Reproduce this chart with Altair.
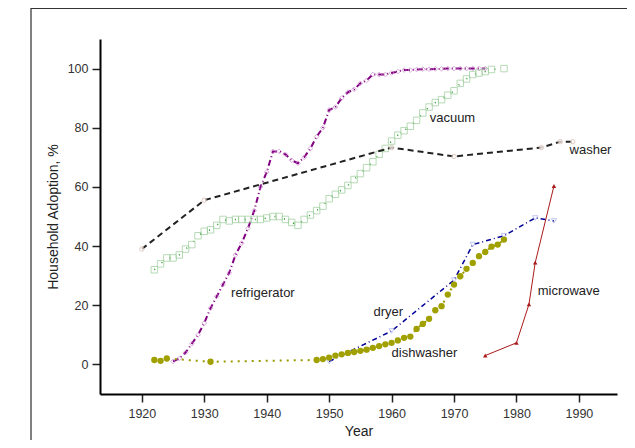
import altair as alt
import pandas as pd

FONT = "Liberation Sans"

# ---------------- data ----------------
washer_years = [1920, 1930, 1960, 1970, 1984, 1987, 1989]
washer_vals = [39, 55.5, 73.3, 70.3, 73.3, 75.3, 75.3]

fridge_years = list(range(1925, 1976))
fridge_vals = [1, 2, 4, 7, 10, 14, 19, 23, 27, 31,
               37, 41, 46, 52, 60, 65, 72, 72, 71, 69,
               68, 70, 73, 77, 80, 86, 87, 90, 92, 93,
               95, 96, 98, 98, 98, 98.5, 99, 99.5, 99.5, 99.7,
               99.8, 99.8, 99.9, 99.9, 100, 100, 100, 100, 100, 100,
               100]

vacuum_years = list(range(1922, 1977)) + [1978]
vacuum_vals = [32, 34, 36, 36, 37, 39, 40.5, 43.5, 45, 45.5,
               47, 49, 48.5, 49, 49, 49, 49, 49, 49.5, 50,
               50, 49, 48, 47, 49, 50.5, 52, 53.5, 56, 57.5,
               59, 60.5, 62.5, 64.5, 66.5, 68.5, 71, 73, 75.5, 77.5,
               79, 80.5, 82.5, 85, 87, 88.5, 89.5, 91, 92.5, 95,
               96.5, 98, 98.5, 99, 99.7, 100]

dryer_years = [1950, 1960, 1970, 1973, 1978, 1983, 1986]
dryer_vals = [1, 11.3, 28.5, 40.5, 43.5, 49.5, 48.5]

dish_years = [1922, 1923, 1924, 1931] + list(range(1948, 1979))
dish_vals = [1.5, 1.2, 2, 0.9,
             1.5, 1.8, 2.3, 3, 3.4, 3.9, 4.2, 4.6, 5, 5.6,
             6.2, 6.8, 7.3, 8.1, 9, 9.4, 12, 13.7, 15.4, 18.3,
             19.7, 23.6, 27, 29.8, 32.3, 34.3, 36.6, 38, 39.8, 40.5,
             42.2]

micro_years = [1975, 1980, 1982, 1983, 1986]
micro_vals = [3, 7.3, 20.3, 34.4, 60.3]

label_text = ["vacuum", "washer", "refrigerator", "dryer", "dishwasher", "microwave"]
label_year = [1966.1, 1988.5, 1934.3, 1957.1, 1960.0, 1983.4]
label_val = [83.3, 72.5, 24.0, 17.8, 3.8, 24.9]

# ---------------- scales ----------------
xs = alt.Scale(domain=[1913.3, 1996.1], nice=False, zero=False)
ys = alt.Scale(domain=[-10, 110], nice=False, zero=False)

x_axis = alt.Axis(values=[1920, 1930, 1940, 1950, 1960, 1970, 1980, 1990], format="d",
                  title="Year", grid=False, domainColor="#000000", domainWidth=2,
                  tickColor="#222222", tickWidth=1.5, tickSize=8, labelPadding=5,
                  labelFont=FONT, labelFontSize=12.5, labelColor="#333333",
                  titleFont=FONT, titleFontSize=14, titleFontWeight="normal",
                  titleColor="#222222", titleBaseline="alphabetic", titleY=41)
y_axis = alt.Axis(values=[0, 20, 40, 60, 80, 100], title="Household Adoption, %",
                  grid=False, domainColor="#000000", domainWidth=2,
                  tickColor="#222222", tickWidth=1.5, tickSize=8, labelPadding=4,
                  labelFont=FONT, labelFontSize=12.5, labelColor="#333333",
                  titleFont=FONT, titleFontSize=14, titleFontWeight="normal",
                  titleColor="#222222", titlePadding=7)


def frame(years, vals):
    return pd.DataFrame({"year": years, "value": vals})


def enc():
    return dict(
        x=alt.X("year:Q", scale=xs, axis=x_axis),
        y=alt.Y("value:Q", scale=ys, axis=y_axis),
    )


layers = []

# refrigerator
d = frame(fridge_years, fridge_vals)
layers.append(alt.Chart(d).mark_line(color="#800080", strokeWidth=2, strokeDash=[6, 3, 1, 3]).encode(**enc()))
layers.append(alt.Chart(d).mark_point(shape="diamond", filled=False, size=22, color="#cc88cc", strokeWidth=1).encode(**enc()))

# vacuum
d = frame(vacuum_years, vacuum_vals)
layers.append(alt.Chart(d).mark_line(color="#229922", strokeWidth=1.5, strokeDash=[1, 9]).encode(**enc()))
layers.append(alt.Chart(d).mark_point(shape="square", filled=False, size=42, color="#99cc99", strokeWidth=1).encode(**enc()))

# washer
d = frame(washer_years, washer_vals)
layers.append(alt.Chart(d).mark_line(color="#222222", strokeWidth=2, strokeDash=[6, 4]).encode(**enc()))
layers.append(alt.Chart(d).mark_point(shape="circle", filled=True, fill="white", stroke="#d8b8a8", size=20, strokeWidth=1).encode(**enc()))

# dryer
d = frame(dryer_years, dryer_vals)
layers.append(alt.Chart(d).mark_line(color="#000099", strokeWidth=1.5, strokeDash=[5, 3, 1, 3]).encode(**enc()))
layers.append(alt.Chart(d).mark_point(shape="triangle-down", filled=False, size=28, color="#aab0ee", strokeWidth=1).encode(**enc()))

# dishwasher
d = frame(dish_years, dish_vals)
layers.append(alt.Chart(d).mark_line(color="#9a9a00", strokeWidth=2, strokeDash=[2, 5]).encode(**enc()))
layers.append(alt.Chart(d).mark_point(shape="circle", filled=True, size=40, color="#a0a000", opacity=1).encode(**enc()))

# microwave
d = frame(micro_years, micro_vals)
layers.append(alt.Chart(d).mark_line(color="#aa1a1a", strokeWidth=1).encode(**enc()))
layers.append(alt.Chart(d).mark_point(shape="triangle-up", filled=True, size=20, color="#aa1a1a", opacity=1).encode(**enc()))

# labels
lab = pd.DataFrame({"text": label_text, "year": label_year, "value": label_val})
layers.append(alt.Chart(lab).mark_text(align="left", baseline="middle", font=FONT,
                                       fontSize=13, color="#222222").encode(text="text:N", **enc()))

# slide frame lines (decoration)
one = pd.DataFrame({"a": [0]})
layers.append(alt.Chart(one).mark_rule(color="#808080", strokeWidth=2).encode(
    x=alt.value(-69), y=alt.value(-31), y2=alt.value(401)))
layers.append(alt.Chart(one).mark_rule(color="#333333", strokeWidth=1).encode(
    x=alt.value(-69), x2=alt.value(527), y=alt.value(-30.5)))

chart = alt.layer(*layers).properties(
    width=517, height=355,
    autosize=alt.AutoSizeParams(type="none"),
    padding={"left": 92, "top": 31, "right": 10, "bottom": 46},
    background="white",
).configure_view(stroke=None)

chart.save("out.html", embed_options={"renderer": "svg", "actions": False})
